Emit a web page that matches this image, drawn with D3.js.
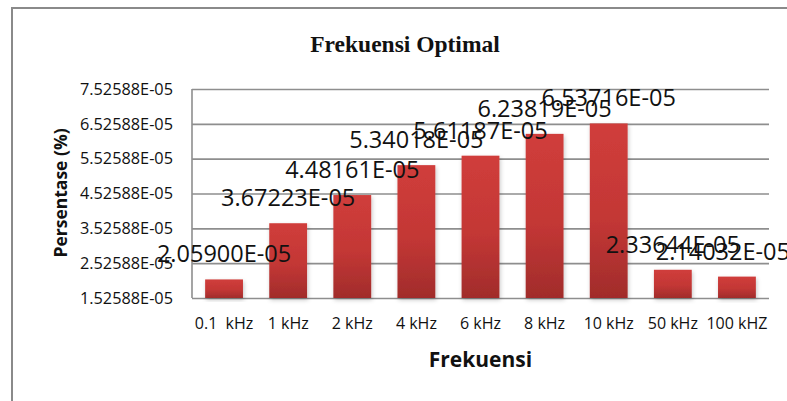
<!DOCTYPE html>
<html>
<head>
<meta charset="utf-8">
<script src="https://cdn.jsdelivr.net/npm/d3@7"></script>
<style>
  body { margin: 0; background: #fff; }
  svg { display: block; }
</style>
</head>
<body>
<div id="chart"></div>
<script>
// data
const categories = ["0.1  kHz", "1 kHz", "2 kHz", "4 kHz", "6 kHz", "8 kHz", "10 kHz", "50 kHz", "100 kHZ"];
const values = [2.05900e-5, 3.67223e-5, 4.48161e-5, 5.34018e-5, 5.61187e-5, 6.23819e-5, 6.53716e-5, 2.33644e-5, 2.14032e-5];
const yTicks = [1.52588e-5, 2.52588e-5, 3.52588e-5, 4.52588e-5, 5.52588e-5, 6.52588e-5, 7.52588e-5];

const W = 787, H = 401;
const plot = { left: 192, right: 769, top: 89, bottom: 298 };

// Excel style scientific notation: 2.05900E-05
function sci(v) {
    var s = v.toExponential(5).split("e");
    var exp = parseInt(s[1], 10);
    var sign = exp < 0 ? "-" : "+";
    var e = String(Math.abs(exp)).padStart(2, "0");
    return s[0] + "E" + sign + e;
}

const svg = d3.select("#chart").append("svg")
    .attr("width", W)
    .attr("height", H);

const defs = svg.append("defs");
const grad = defs.append("linearGradient")
    .attr("id", "barGrad")
    .attr("x1", 0).attr("y1", 0).attr("x2", 0).attr("y2", 1);
grad.append("stop").attr("offset", "0%").attr("stop-color", "#d03d3b");
grad.append("stop").attr("offset", "55%").attr("stop-color", "#c33735");
grad.append("stop").attr("offset", "100%").attr("stop-color", "#a12c2b");

const shadow = defs.append("filter").attr("id", "shadow")
    .attr("x", "-20%").attr("y", "-10%").attr("width", "140%").attr("height", "130%");
shadow.append("feDropShadow")
    .attr("dx", 1).attr("dy", 2).attr("stdDeviation", 2)
    .attr("flood-color", "#000").attr("flood-opacity", 0.22);

// outer chart border (runs off the right and bottom of the picture)
svg.append("path")
    .attr("d", "M12," + H + " L12,8 L" + W + ",8")
    .attr("fill", "none")
    .attr("stroke", "#8a8a8a")
    .attr("stroke-width", 2);

const x = d3.scaleBand()
    .domain(categories)
    .range([plot.left, plot.right])
    .paddingInner(0.41)
    .paddingOuter(0.205);

const y = d3.scaleLinear()
    .domain([yTicks[0], yTicks[yTicks.length - 1]])
    .range([plot.bottom, plot.top]);

// gridlines + tick labels
const yAxis = d3.axisLeft(y)
    .tickValues(yTicks)
    .tickSize(-(plot.right - plot.left))
    .tickPadding(19)
    .tickFormat(sci);

const gy = svg.append("g")
    .attr("transform", "translate(" + plot.left + ",0)")
    .call(yAxis);
gy.select(".domain").remove();
gy.selectAll(".tick line")
    .attr("stroke", "#8e8e8e")
    .attr("stroke-width", 1.6);
gy.selectAll(".tick text")
    .attr("fill", "#111")
    .style("font-family", "'Open Sans', sans-serif")
    .style("font-size", "16.3px");

// left axis line
svg.append("line")
    .attr("x1", plot.left).attr("x2", plot.left)
    .attr("y1", plot.top).attr("y2", plot.bottom)
    .attr("stroke", "#8e8e8e")
    .attr("stroke-width", 1.6);

// bars
svg.append("g").selectAll("rect")
    .data(values)
    .enter()
    .append("rect")
    .attr("x", function(d, i) { return x(categories[i]); })
    .attr("y", function(d) { return y(d); })
    .attr("width", x.bandwidth())
    .attr("height", function(d) { return plot.bottom - y(d); })
    .attr("fill", "url(#barGrad)")
    .attr("filter", "url(#shadow)");

// x axis labels
const xAxis = d3.axisBottom(x).tickSize(0).tickPadding(20);
const gx = svg.append("g")
    .attr("transform", "translate(0," + plot.bottom + ")")
    .call(xAxis);
gx.select(".domain").remove();
gx.selectAll(".tick text")
    .attr("fill", "#111")
    .style("font-family", "'Open Sans', sans-serif")
    .style("font-size", "16px")
    .style("white-space", "pre");

// data labels (big, like the original)
const labels = svg.append("g").selectAll("text")
    .data(values)
    .enter()
    .append("text")
    .attr("text-anchor", "middle")
    .attr("dominant-baseline", "central")
    .attr("y", function(d) { return y(d) - 26; })
    .style("font-family", "'Open Sans', sans-serif")
    .style("font-size", "23.5px")
    .attr("fill", "#111")
    .text(sci);

// keep labels inside the chart area, as the original does for the last one
labels.attr("x", function(d, i) {
    var cx = x(categories[i]) + x.bandwidth() / 2;
    var half = this.getComputedTextLength() / 2;
    return Math.min(cx, 790 - half);
});

// title
svg.append("text")
    .attr("x", 405)
    .attr("y", 52)
    .attr("text-anchor", "middle")
    .style("font-family", "'Liberation Serif', 'Times New Roman', serif")
    .style("font-weight", "bold")
    .style("font-size", "23.5px")
    .attr("fill", "#111")
    .text("Frekuensi Optimal");

// x title
svg.append("text")
    .attr("x", (plot.left + plot.right) / 2)
    .attr("y", 367)
    .attr("text-anchor", "middle")
    .style("font-family", "'Open Sans', sans-serif")
    .style("font-weight", "bold")
    .style("font-size", "21px")
    .attr("fill", "#111")
    .text("Frekuensi");

// y title
svg.append("text")
    .attr("transform", "translate(67,193) rotate(-90)")
    .attr("text-anchor", "middle")
    .style("font-family", "'Open Sans', sans-serif")
    .style("font-weight", "bold")
    .style("font-size", "17.5px")
    .attr("fill", "#111")
    .text("Persentase (%)");
</script>
</body>
</html>
